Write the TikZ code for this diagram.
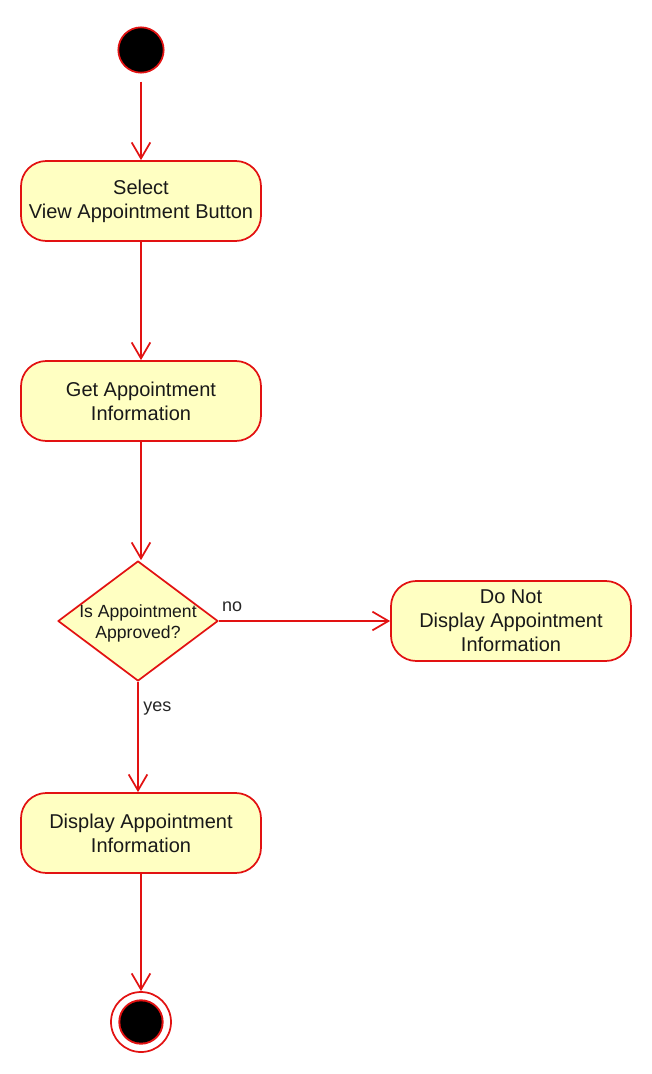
\documentclass[tikz,border=0pt]{standalone}
\usepackage{fontspec}
\setmainfont{Liberation Sans}
\usetikzlibrary{arrows.meta,shapes.geometric}
\begin{document}
\begin{tikzpicture}[x=0.75pt, y=-0.75pt, line join=round, font=\fontsize{15}{18}\selectfont]

% ---------- colours and styles ----------
\definecolor{umlred}{RGB}{226,18,18}
\definecolor{umlfill}{RGB}{255,255,194}

\tikzset{
  action/.style={draw=umlred, fill=umlfill, line width=1.3pt, rounded corners=19pt,
    minimum width=180pt, minimum height=60pt, inner sep=0pt, align=center, text=black!90},
  decision/.style={diamond, draw=umlred, fill=umlfill, line width=1.3pt,
    minimum width=120pt, minimum height=90pt, inner sep=0pt},
  initial/.style={circle, draw=umlred, fill=black, line width=1.3pt, minimum size=34pt, inner sep=0pt},
  final/.style={circle, draw=umlred, line width=1.3pt, minimum size=45pt, inner sep=0pt,
    path picture={\fill[umlred] (path picture bounding box.center) circle (17pt);
                  \fill[black] (path picture bounding box.center) circle (15.5pt);}},
  flow/.style={draw=umlred, line width=1.3pt, -{Straight Barb[length=12pt, width=14pt, line width=1.3pt]}},
  guard/.style={font=\fontsize{13.5}{15}\selectfont, text=black!85}
}

\useasboundingbox (0,0) rectangle (652,1074);

% ---------- nodes ----------
\node[initial] (start) at (141,50) {};
\node[action] (select) at (141,201) {Select\\View Appointment Button};
\node[action] (getinfo) at (141,401) {Get Appointment\\Information};
\node[decision, label={[font=\fontsize{13.2}{15.8}\selectfont, align=center, text=black!90, yshift=-1.5pt]center:Is Appointment\\Approved?}] (approved) at (138,621) {};
\node[action] (hideinfo) at (511,621) {Do Not\\Display Appointment\\Information};
\node[action] (showinfo) at (141,833) {Display Appointment\\Information};
\node[final] (stop) at (141,1022) {};

% ---------- flows ----------
\draw[flow, shorten <=6pt] (start) -- (select);
\draw[flow] (select) -- (getinfo);
\draw[flow] (getinfo) -- (getinfo.south |- approved.north);
\draw[flow] (approved.east) -- node[guard, pos=0, anchor=south west, xshift=-1.5pt, yshift=3pt] {no} (hideinfo.west);
\draw[flow] (approved.south) -- node[guard, pos=0.24, anchor=west, xshift=0pt] {yes} (approved.south |- showinfo.north);
\draw[flow] (showinfo) -- (stop);

\end{tikzpicture}
\end{document}
